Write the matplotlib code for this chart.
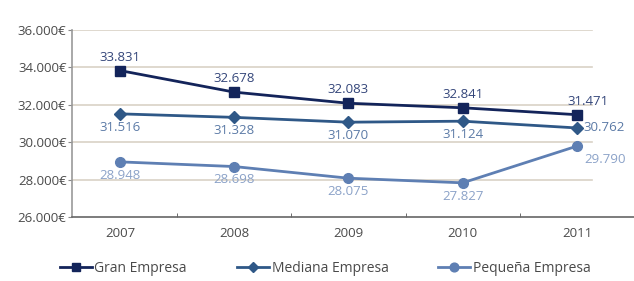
import numpy as np
import matplotlib
matplotlib.use("Agg")
from matplotlib import pyplot as plt
from matplotlib.ticker import FixedLocator

years = ["2007", "2008", "2009", "2010", "2011"]
gran = [33831, 32678, 32083, 31841, 31471]
mediana = [31516, 31328, 31070, 31124, 30762]
pequena = [28948, 28698, 28075, 27827, 29790]
gran_labels = ["33.831", "32.678", "32.083", "32.841", "31.471"]
mediana_labels = ["31.516", "31.328", "31.070", "31.124", "30.762"]
pequena_labels = ["28.948", "28.698", "28.075", "27.827", "29.790"]
yticks = [26000, 28000, 30000, 32000, 34000, 36000]

plt.rcParams['font.family'] = ['Open Sans', 'DejaVu Sans']

fig = plt.figure(figsize=(6.34, 2.81), dpi=100)
ax = fig.add_axes([72/634, 1-217/281, 1-72/634, (217-30)/281])

x = np.arange(len(years))
c_gran, c_med, c_peq = "#13245a", "#2f5887", "#5e7fb3"
fs = 9.5

for yv in yticks[1:]:
    ax.axhline(yv, xmin=0, xmax=(4.13+0.42)/(4.5+0.42), color="#d9d2c6", lw=1.2, zorder=1)

ax.plot(x, gran, color=c_gran, lw=2, marker="s", ms=6.5, label="Gran Empresa", zorder=4)
ax.plot(x, mediana, color=c_med, lw=2, marker="D", ms=6, label="Mediana Empresa", zorder=3)
ax.plot(x, pequena, color=c_peq, lw=2, marker="o", ms=7, label="Pequeña Empresa", zorder=3)

for i in range(len(years)):
    dx = 8 if i == 4 else 0
    ax.annotate(gran_labels[i], (x[i], gran[i]), xytext=(dx, 5), textcoords="offset points",
                ha="center", va="bottom", fontsize=fs, color="#34467a")
    if i == 4:
        ax.annotate(mediana_labels[i], (x[i], mediana[i]), xytext=(5, 0), textcoords="offset points",
                    ha="left", va="center", fontsize=fs, color="#5b7aa6")
        ax.annotate(pequena_labels[i], (x[i], pequena[i]), xytext=(5, -5), textcoords="offset points",
                    ha="left", va="top", fontsize=fs, color="#8ba2c8")
    else:
        ax.annotate(mediana_labels[i], (x[i], mediana[i]), xytext=(0, -5), textcoords="offset points",
                    ha="center", va="top", fontsize=fs, color="#5b7aa6")
        ax.annotate(pequena_labels[i], (x[i], pequena[i]), xytext=(0, -5), textcoords="offset points",
                    ha="center", va="top", fontsize=fs, color="#8ba2c8")

ax.set_xlim(-0.42, 4.5)
ax.set_ylim(26000, 36000)
ax.set_yticks(yticks)
ax.set_yticklabels([f"{v // 1000}.000€" for v in yticks], fontsize=fs, color="#4a4a4a")
ax.set_xticks(x)
ax.set_xticklabels(years, fontsize=fs, color="#4a4a4a")
ax.tick_params(axis="x", length=0, pad=7)
ax.tick_params(axis="y", length=3, color="#888888", pad=1)
ax.xaxis.set_minor_locator(FixedLocator([0.5, 1.5, 2.5, 3.5]))
ax.tick_params(axis="x", which="minor", length=3, direction="in", color="#555555")

for s in ["top", "right"]:
    ax.spines[s].set_visible(False)
ax.spines["left"].set_color("#999999")
ax.spines["bottom"].set_color("#666666")
ax.spines["left"].set_linewidth(1.2)
ax.spines["bottom"].set_linewidth(1.2)

fig.legend(loc="lower center", bbox_to_anchor=(0.513, -0.025), ncol=3, frameon=False,
           fontsize=10, handlelength=2.3, columnspacing=3.6, handletextpad=0.2,
           labelcolor="#4a4a4a", markerscale=0.9)

fig.savefig("out.png", dpi=100)
